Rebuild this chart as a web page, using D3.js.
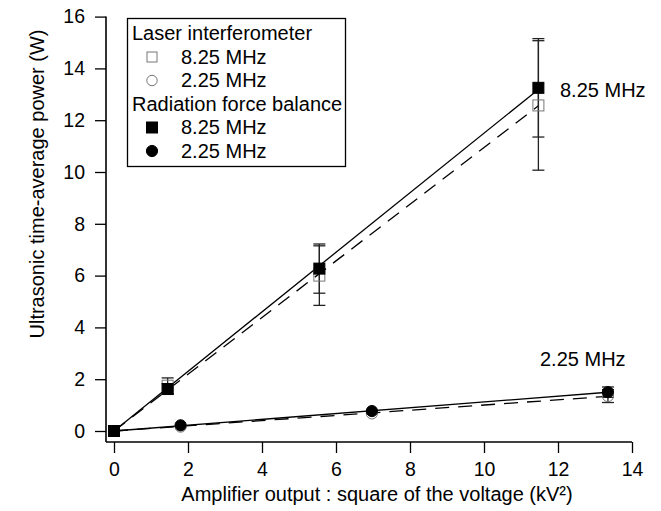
<!DOCTYPE html>
<html>
<head>
<meta charset="utf-8">
<script src="https://cdn.jsdelivr.net/npm/d3@7/dist/d3.min.js"></script>
<style>
  html, body { margin: 0; padding: 0; background: #fff; }
  svg { display: block; }
  text { font-family: "Liberation Sans", Arial, Helvetica, sans-serif; fill: #000; }
</style>
</head>
<body>
<svg id="chart" width="661" height="511"></svg>
<script>
// ---- data ----
const xTicks = [0, 2, 4, 6, 8, 10, 12, 14];
const yTicks = [0, 2, 4, 6, 8, 10, 12, 14, 16];

// 8.25 MHz transducer
const x825 = [0, 1.45, 5.55, 11.47];
const rfb825 = [0, 1.62, 6.27, 13.25];      // radiation force balance (filled squares)
const rfb825Err = [0, 0.2, 0.95, 1.9];
const li825 = [0, 1.75, 6.0, 12.57];        // laser interferometer (open squares)
const li825Err = [0, 0.3, 1.15, 2.5];

// 2.25 MHz transducer
const x225 = [0, 1.8, 6.97, 13.35];
const rfb225 = [0, 0.22, 0.77, 1.5];        // filled circles
const rfb225Err = [0, 0, 0, 0.2];
const li225 = [0, 0.17, 0.68, 1.35];        // open circles
const li225Err = [0, 0, 0, 0.25];

const legendHeaders = ["Laser interferometer", "Radiation force balance"];
const freqLabels = ["8.25 MHz", "2.25 MHz"];
const xTitle = "Amplifier output : square of the voltage (kV\u00B2)";
const yTitle = "Ultrasonic time-average power (W)";

// ---- layout ----
const svg = d3.select("#chart");
const FS = 20, TFS = 19.5;
const x = d3.scaleLinear().domain([0, 14]).range([114, 632]);
const y = d3.scaleLinear().domain([0, 16]).range([431, 16.6]);
const axisX = 106, axisY = 442;

// axes
const gx = svg.append("g").attr("transform", `translate(0,${axisY})`)
  .call(d3.axisBottom(x).tickValues(xTicks).tickSize(11).tickPadding(9).tickFormat(d3.format("d")));
const gy = svg.append("g").attr("transform", `translate(${axisX},0)`)
  .call(d3.axisLeft(y).tickValues(yTicks).tickSize(11).tickPadding(10).tickFormat(d3.format("d")));
[gx, gy].forEach(g => {
  g.select(".domain").remove();
  g.selectAll(".tick line").attr("stroke", "#000").attr("stroke-width", 1.3);
  g.selectAll(".tick text").attr("font-size", TFS).attr("font-family", "Liberation Sans, Arial, sans-serif").attr("fill", "#000");
});
gx.selectAll(".tick text").attr("dy", "0.71em");
svg.append("line").attr("x1", axisX).attr("x2", x(14)).attr("y1", axisY).attr("y2", axisY)
  .attr("stroke", "#000").attr("stroke-width", 1.6);
svg.append("line").attr("x1", axisX).attr("x2", axisX).attr("y1", y(16)).attr("y2", axisY)
  .attr("stroke", "#000").attr("stroke-width", 1.6);

// axis titles
svg.append("text").attr("x", 377).attr("y", 501).attr("text-anchor", "middle")
  .attr("font-size", FS).text(xTitle);
svg.append("text").attr("transform", "translate(44,184) rotate(-90)").attr("text-anchor", "middle")
  .attr("font-size", FS).text(yTitle);

// ---- fit lines (least squares through the origin) ----
function slope(xs, ys) {
  const sxy = d3.sum(xs, (v, i) => v * ys[i]);
  const sxx = d3.sum(xs, v => v * v);
  return sxy / sxx;
}
function fitLine(xs, ys, dashed) {
  const k = slope(xs, ys);
  const xe = d3.max(xs);
  svg.append("line")
    .attr("x1", x(0)).attr("y1", y(0)).attr("x2", x(xe)).attr("y2", y(k * xe))
    .attr("stroke", "#000").attr("stroke-width", 1.3)
    .attr("stroke-dasharray", dashed ? "14,9" : null);
}
fitLine(x825, li825, true);
fitLine(x225, li225, true);
fitLine(x825, rfb825, false);
fitLine(x225, rfb225, false);

// ---- error bars ----
function errBars(xs, ys, es) {
  const g = svg.append("g").attr("stroke", "#222").attr("stroke-width", 1.3);
  xs.forEach((xv, i) => {
    if (!es[i]) return;
    const cx = x(xv), t = y(ys[i] + es[i]), b = y(ys[i] - es[i]);
    g.append("line").attr("x1", cx).attr("x2", cx).attr("y1", t).attr("y2", b);
    g.append("line").attr("x1", cx - 6).attr("x2", cx + 6).attr("y1", t).attr("y2", t);
    g.append("line").attr("x1", cx - 6).attr("x2", cx + 6).attr("y1", b).attr("y2", b);
  });
}
errBars(x825, li825, li825Err);
errBars(x825, rfb825, rfb825Err);
errBars(x225, li225, li225Err);
errBars(x225, rfb225, rfb225Err);

// ---- markers ----
const SQ = 11, R = 5.6;
function squares(xs, ys, filled) {
  svg.append("g").selectAll("rect").data(xs).join("rect")
    .attr("x", d => x(d) - SQ / 2).attr("y", (d, i) => y(ys[i]) - SQ / 2)
    .attr("width", SQ).attr("height", SQ)
    .attr("fill", filled ? "#000" : "none")
    .attr("stroke", filled ? "#000" : "#777").attr("stroke-width", 1);
}
function circles(xs, ys, filled) {
  svg.append("g").selectAll("circle").data(xs).join("circle")
    .attr("cx", d => x(d)).attr("cy", (d, i) => y(ys[i])).attr("r", R)
    .attr("fill", filled ? "#000" : "none")
    .attr("stroke", filled ? "#000" : "#777").attr("stroke-width", 1);
}
squares(x825, li825, false);
circles(x225, li225, false);
squares(x825, rfb825, true);
circles(x225, rfb225, true);

// series labels
svg.append("text").attr("x", 560).attr("y", 97).attr("font-size", FS).text(freqLabels[0]);
svg.append("text").attr("x", 540).attr("y", 366).attr("font-size", FS).text(freqLabels[1]);

// ---- legend ----
const lg = svg.append("g");
lg.append("rect").attr("x", 127.5).attr("y", 18.5).attr("width", 218).attr("height", 148)
  .attr("fill", "#fff").attr("stroke", "#000").attr("stroke-width", 1.3);
const rows = [
  { t: legendHeaders[0], head: true },
  { t: freqLabels[0], sym: "square", filled: false },
  { t: freqLabels[1], sym: "circle", filled: false },
  { t: legendHeaders[1], head: true },
  { t: freqLabels[0], sym: "square", filled: true },
  { t: freqLabels[1], sym: "circle", filled: true }
];
rows.forEach((r, i) => {
  const base = 40 + i * 23.5;
  if (r.head) {
    lg.append("text").attr("x", 132).attr("y", base).attr("font-size", FS).text(r.t);
  } else {
    const cy = base - 6.5;
    const s = r.filled ? 11 : 10;
    if (r.sym === "square") {
      lg.append("rect").attr("x", 152 - s / 2).attr("y", cy - s / 2).attr("width", s).attr("height", s)
        .attr("fill", r.filled ? "#000" : "none").attr("stroke", r.filled ? "#000" : "#777");
    } else {
      lg.append("circle").attr("cx", 152).attr("cy", cy).attr("r", r.filled ? 5.6 : 5.2)
        .attr("fill", r.filled ? "#000" : "none").attr("stroke", r.filled ? "#000" : "#777");
    }
    lg.append("text").attr("x", 181).attr("y", base).attr("font-size", FS).text(r.t);
  }
});
</script>
</body>
</html>
